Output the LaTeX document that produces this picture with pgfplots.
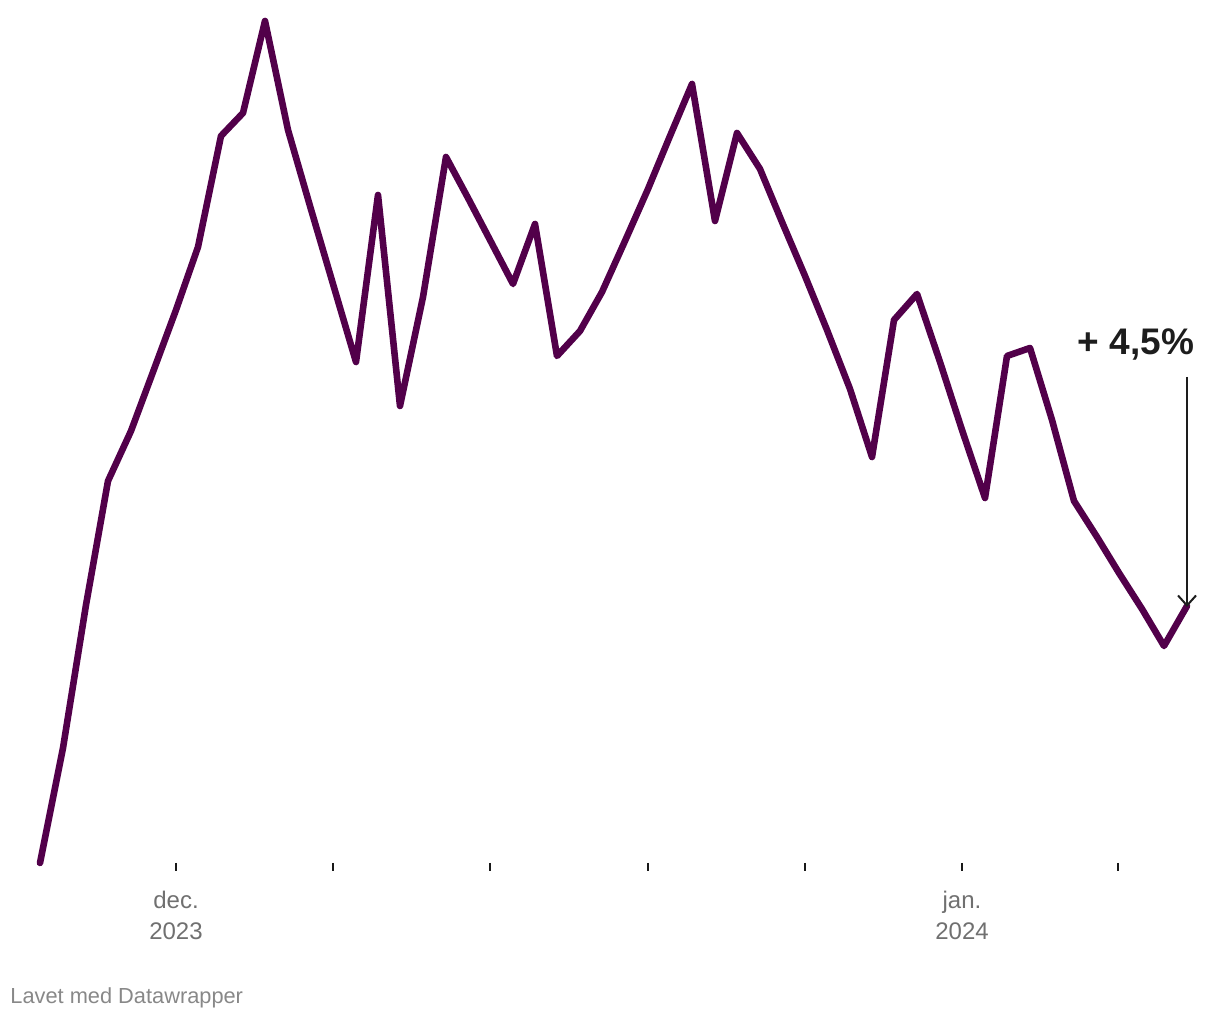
\documentclass[border=0pt]{standalone}
\usepackage{pgfplots}
\pgfplotsset{compat=1.18}
\usepackage{fontspec}
\setmainfont{Liberation Sans}
\usetikzlibrary{arrows.meta}
\definecolor{linecol}{RGB}{82,0,74}
\definecolor{ticklab}{RGB}{112,112,112}
\definecolor{foot}{RGB}{136,136,136}
\definecolor{annot}{RGB}{29,29,29}
\begin{document}
\begin{tikzpicture}
\useasboundingbox (0,0) rectangle (610pt,510pt);
\begin{axis}[
  at={(0,0)}, anchor=south west,
  scale only axis, width=610pt, height=510pt,
  xmin=0, xmax=1220, ymin=0, ymax=1020,
  axis lines=none, clip=false,
]
\addplot[linecol, line width=3.3pt, line cap=round, line join=round] coordinates {
(40,157) (63,272) (86,415) (108,539) (131,589) (153,648) (176,710) (198,773)
(221,884) (243,907) (265,999) (288,890) (310,814) (333,736) (356,658) (378,825)
(400,614) (423,723) (446,863) (468,822) (490,780) (513,736) (535,796) (557,664)
(580,689) (602,728) (625,779) (648,831) (670,884) (692,936) (715,799) (737,887)
(760,851) (782,798) (805,744) (827,690) (850,631) (872,563) (894,700) (917,726)
(940,658) (962,590) (985,522) (1007,664) (1030,672) (1052,600) (1074,519) (1097,483)
(1119,447) (1142,411) (1164,374) (1187,414)
};
% ticks
\foreach \t in {176,333,490,648,805,962,1118} {
  \edef\tmp{\noexpand\draw[black!90, line width=1pt] (axis cs:\t,157) -- (axis cs:\t,149);}
  \tmp
}
\node[ticklab, font=\fontsize{12}{15.5}\selectfont, align=center, anchor=center] at (axis cs:176,105) {dec.\\2023};
\node[ticklab, font=\fontsize{12}{15.5}\selectfont, align=center, anchor=center] at (axis cs:962,105) {jan.\\2024};
\node[foot, font=\fontsize{10.9}{12}\selectfont, anchor=west, inner sep=0pt] at (axis cs:10,22) {Lavet med Datawrapper};
\node[annot, font=\fontsize{18.5}{20}\selectfont\bfseries, anchor=center, inner sep=0pt] at (axis cs:1136,675) {+ 4,5\%};
\draw[annot, line width=1pt, -{Straight Barb[length=5pt,width=9pt]}] (axis cs:1187,643) -- (axis cs:1187,413);
\end{axis}
\end{tikzpicture}
\end{document}
